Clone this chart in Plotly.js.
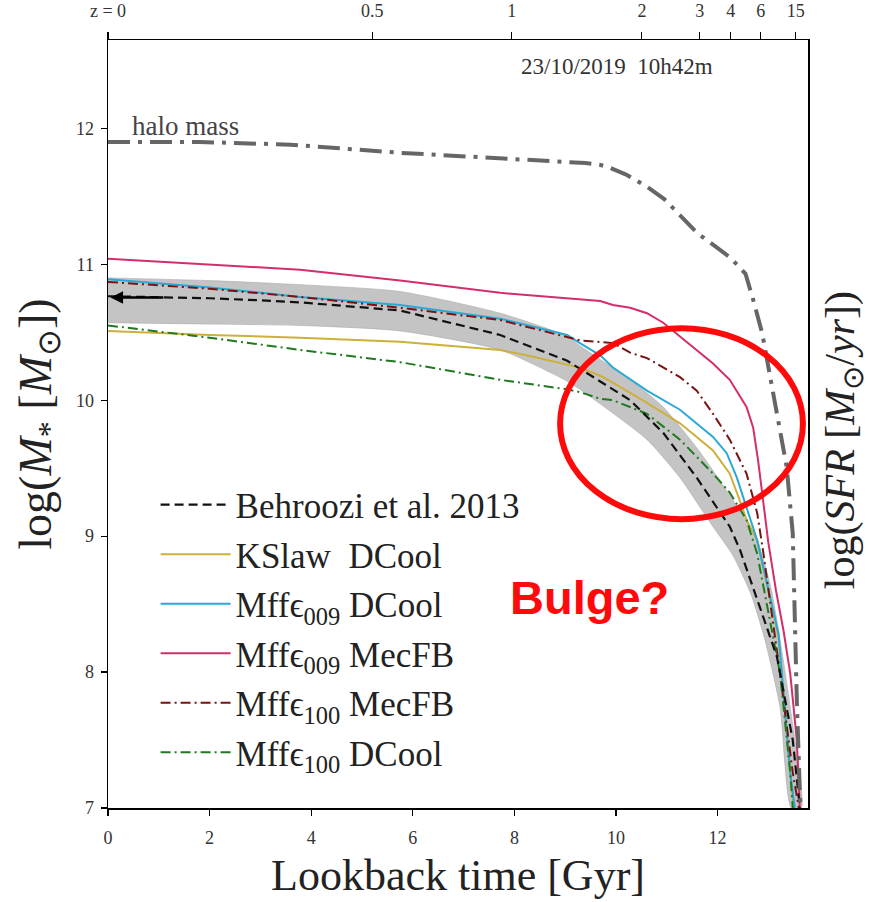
<!DOCTYPE html>
<html>
<head>
<meta charset="utf-8">
<script src="https://cdn.plot.ly/plotly-3.0.1.min.js"></script>
<style>
  html, body { margin: 0; padding: 0; background: #fff; }
  #chart { width: 869px; height: 902px; }
</style>
</head>
<body>
<div id="chart"></div>
<script>
// Stellar mass growth histories vs lookback time (Gyr)

// Halo mass
const haloT = [0, 1.8, 3.6, 5.75, 7.7, 9.4, 9.7, 9.88, 10.2, 10.61, 10.95, 11.6, 12.25, 12.55, 12.7, 12.88, 13.36, 13.48, 13.56, 13.63];
const haloM = [11.90, 11.90, 11.88, 11.82, 11.78, 11.745, 11.73, 11.71, 11.66, 11.57, 11.48, 11.23, 11.05, 10.93, 10.74, 10.49, 9.51, 9.02, 7.79, 7.0];

// Behroozi et al. 2013 median and its scatter band
const behT = [0, 1, 2, 3, 3.78, 5.75, 7.72, 9.04, 9.63, 10.28, 10.93, 11.59, 12.24, 12.44, 12.83, 13.17, 13.48, 13.62];
const behM = [10.765, 10.76, 10.75, 10.735, 10.72, 10.66, 10.48, 10.29, 10.15, 10.0, 9.76, 9.43, 9.07, 8.90, 8.48, 8.11, 7.50, 7.0];
const bandUpT = [0, 2, 3.78, 5.75, 7.72, 9.04, 9.29, 10.28, 10.93, 11.59, 12.24, 12.78, 13.05, 13.23, 13.43, 13.65];
const bandUpM = [10.90, 10.88, 10.85, 10.80, 10.64, 10.47, 10.40, 10.15, 9.95, 9.65, 9.30, 8.97, 8.62, 8.24, 7.74, 7.0];
const bandLoT = [0, 2, 3.78, 5.75, 7.72, 9.04, 9.29, 10.61, 11.26, 11.91, 12.30, 12.65, 12.93, 13.23, 13.45];
const bandLoM = [10.57, 10.56, 10.55, 10.51, 10.37, 10.14, 10.08, 9.71, 9.43, 9.07, 8.86, 8.58, 8.24, 7.74, 7.0];

// KSlaw DCool
const ksT = [0, 2, 3.78, 5.75, 7.07, 7.72, 8.37, 9.04, 9.29, 9.69, 9.94, 10.61, 11.26, 11.91, 12.24, 12.44, 12.57, 12.78, 13.2, 13.43, 13.5];
const ksM = [10.51, 10.48, 10.46, 10.43, 10.39, 10.37, 10.32, 10.26, 10.24, 10.18, 10.13, 9.98, 9.83, 9.63, 9.46, 9.26, 9.12, 8.97, 8.26, 7.26, 7.0];

// Mff eps009 DCool
const m009dT = [0, 2, 3.78, 5.75, 7.72, 9.04, 9.29, 9.69, 9.94, 10.61, 11.26, 11.91, 12.18, 12.38, 12.57, 12.78, 13.2, 13.43, 13.52];
const m009dM = [10.89, 10.83, 10.76, 10.70, 10.60, 10.48, 10.42, 10.33, 10.24, 10.07, 9.93, 9.73, 9.61, 9.43, 9.21, 8.97, 8.28, 7.26, 7.0];

// Mff eps009 MecFB
const m009mT = [0, 2, 3.78, 5.75, 7.72, 9.69, 9.94, 10.28, 10.61, 10.93, 11.26, 11.59, 11.91, 12.24, 12.57, 12.70, 12.80, 12.90, 13.0, 13.15, 13.3, 13.43, 13.56, 13.62];
const m009mM = [11.04, 11.00, 10.96, 10.88, 10.79, 10.73, 10.70, 10.68, 10.64, 10.57, 10.47, 10.37, 10.27, 10.15, 9.95, 9.80, 9.55, 9.25, 8.95, 8.60, 8.30, 7.99, 7.50, 7.0];

// Mff eps100 MecFB
const m100mT = [0, 2, 3.78, 5.75, 7.72, 9.04, 9.29, 9.94, 10.28, 10.61, 11.26, 11.59, 11.91, 12.24, 12.57, 12.78, 12.90, 13.23, 13.48, 13.6];
const m100mM = [10.87, 10.82, 10.76, 10.68, 10.59, 10.46, 10.44, 10.42, 10.35, 10.31, 10.17, 10.07, 9.90, 9.71, 9.46, 9.17, 8.88, 7.99, 7.26, 7.0];

// Mff eps100 DCool
const m100dT = [0, 2, 3.78, 5.75, 7.72, 9.04, 9.29, 9.69, 9.94, 10.61, 11.26, 11.91, 12.24, 12.57, 12.78, 13.23, 13.43, 13.48];
const m100dM = [10.55, 10.46, 10.37, 10.28, 10.15, 10.08, 10.06, 10.01, 10.0, 9.90, 9.71, 9.46, 9.32, 9.12, 8.87, 7.99, 7.26, 7.0];

// Redshift ticks on the top axis, placed at their lookback times
const zLabels = ['z = 0', '0.5', '1', '2', '3', '4', '6', '15'];
const zLookback = [0, 5.20, 7.95, 10.51, 11.65, 12.26, 12.85, 13.54];

const xTicks = [0, 2, 4, 6, 8, 10, 12];
const yTicks = [7, 8, 9, 10, 11, 12];

const SERIF = 'Liberation Serif, Times New Roman, serif';
const X_RANGE = [0, 13.78];
const Y_RANGE = [7, 12.65];

const traces = [
  {
    x: bandUpT.concat(bandLoT.slice().reverse()),
    y: bandUpM.concat(bandLoM.slice().reverse()),
    mode: 'lines', fill: 'toself', fillcolor: '#c4c4c4',
    line: { color: '#aaaaaa', width: 0.6, shape: 'spline', smoothing: 0.6 },
    showlegend: false, hoverinfo: 'skip'
  },
  {
    x: haloT, y: haloM, xaxis: 'x2', yaxis: 'y',
    mode: 'lines', line: { color: '#666666', width: 4, dash: '22px,8px,4px,8px' },
    showlegend: false
  },
  {
    x: ksT, y: ksM, name: 'KSlaw  DCool', legendgroup: 'g2', legendrank: 2,
    mode: 'lines', line: { color: '#cdb03c', width: 2 }
  },
  {
    x: m009dT, y: m009dM, name: 'Mff\u03f5<sub>009</sub> DCool', legendgroup: 'g3', legendrank: 3,
    mode: 'lines', line: { color: '#2aa8d6', width: 2 }
  },
  {
    x: m009mT, y: m009mM, name: 'Mff\u03f5<sub>009</sub> MecFB', legendgroup: 'g4', legendrank: 4,
    mode: 'lines', line: { color: '#d42d6c', width: 2 }
  },
  {
    x: m100mT, y: m100mM, name: 'Mff\u03f5<sub>100</sub> MecFB', legendgroup: 'g5', legendrank: 5,
    mode: 'lines', line: { color: '#7a1212', width: 2, dash: '10px,4px,2px,4px' }
  },
  {
    x: m100dT, y: m100dM, name: 'Mff\u03f5<sub>100</sub> DCool', legendgroup: 'g6', legendrank: 6,
    mode: 'lines', line: { color: '#1f7a1f', width: 2, dash: '10px,4px,2px,4px' }
  },
  {
    x: behT, y: behM, name: 'Behroozi et al. 2013', legendgroup: 'g1', legendrank: 1,
    mode: 'lines', line: { color: '#111111', width: 2.2, dash: '9px,5px' }
  }
];

const layout = {
  width: 869, height: 902,
  margin: { l: 108, r: 61, t: 40, b: 94, pad: 0 },
  paper_bgcolor: '#ffffff', plot_bgcolor: '#ffffff',
  font: { family: SERIF, color: '#222' },
  showlegend: true,
  legend: {
    x: 0.068, y: 0.433, xanchor: 'left', yanchor: 'top',
    font: { family: SERIF, size: 35, color: '#222' },
    bgcolor: 'rgba(0,0,0,0)', borderwidth: 0,
    traceorder: 'grouped', tracegroupgap: 1, itemwidth: 70
  },
  xaxis: {
    range: X_RANGE, tickvals: xTicks, ticks: 'outside', ticklen: 6, tickwidth: 1.2,
    tickcolor: '#000', showline: true, linecolor: '#000', linewidth: 1.5,
    showgrid: false, zeroline: false, ticklabelstandoff: 7,
    tickfont: { family: SERIF, size: 18, color: '#333' },
    title: { text: 'Lookback time [Gyr]', font: { family: SERIF, size: 44, color: '#222' }, standoff: 12 }
  },
  xaxis2: {
    overlaying: 'x', side: 'top', anchor: 'y', range: X_RANGE,
    tickvals: zLookback, ticktext: zLabels, ticks: 'outside', ticklen: 7, tickwidth: 1.2,
    tickcolor: '#000', showline: true, linecolor: '#000', linewidth: 1.5,
    showgrid: false, zeroline: false, ticklabelstandoff: 7,
    tickfont: { family: SERIF, size: 18, color: '#333' }
  },
  yaxis: {
    range: Y_RANGE, tickvals: yTicks, ticks: 'outside', ticklen: 6, tickwidth: 1.2,
    tickcolor: '#000', showline: true, mirror: true, linecolor: '#000', linewidth: 1.5,
    showgrid: false, zeroline: false, ticklabelstandoff: 3,
    tickfont: { family: SERIF, size: 18, color: '#333' },
    title: { text: 'log(<i>M</i><sub>*</sub> [<i>M</i><sub>\u2299</sub>])', font: { family: SERIF, size: 46, color: '#222' }, standoff: 10 }
  },
  shapes: [
    {
      type: 'circle', xref: 'x', yref: 'y',
      x0: 8.90, x1: 13.68, y0: 9.125, y1: 10.53,
      line: { color: '#ff0a0a', width: 6 }, layer: 'above'
    }
  ],
  annotations: [
    {
      xref: 'x', yref: 'y', x: 0.05, y: 10.755, ax: 1.12, ay: 10.755, axref: 'x', ayref: 'y',
      text: '', showarrow: true, arrowhead: 2, arrowsize: 1, arrowwidth: 2.5, arrowcolor: '#000'
    },
    {
      xref: 'x', yref: 'y', x: 0.43, y: 12.02, xanchor: 'left', yanchor: 'middle',
      text: 'halo mass', showarrow: false,
      font: { family: SERIF, size: 27, color: '#444' }
    },
    {
      xref: 'paper', yref: 'paper', x: 0.727, y: 0.965, xanchor: 'center', yanchor: 'middle',
      text: '23/10/2019  10h42m', showarrow: false,
      font: { family: SERIF, size: 23, color: '#333' }
    },
    {
      xref: 'x', yref: 'y', x: 9.47, y: 8.55, xanchor: 'center', yanchor: 'middle',
      text: '<b>Bulge?</b>', showarrow: false,
      font: { family: 'Liberation Sans, Arial, sans-serif', size: 47, color: '#ff0a0a' }
    },
    {
      xref: 'paper', yref: 'paper', x: 1.05, y: 0.479, xanchor: 'center', yanchor: 'middle',
      textangle: -90, showarrow: false,
      text: 'log(<i>SFR</i> [<i>M</i><sub>\u2299</sub>/<i>yr</i>])',
      font: { family: SERIF, size: 42, color: '#222' }
    }
  ]
};

Plotly.newPlot('chart', traces, layout, { displayModeBar: false, staticPlot: true });
</script>
</body>
</html>
